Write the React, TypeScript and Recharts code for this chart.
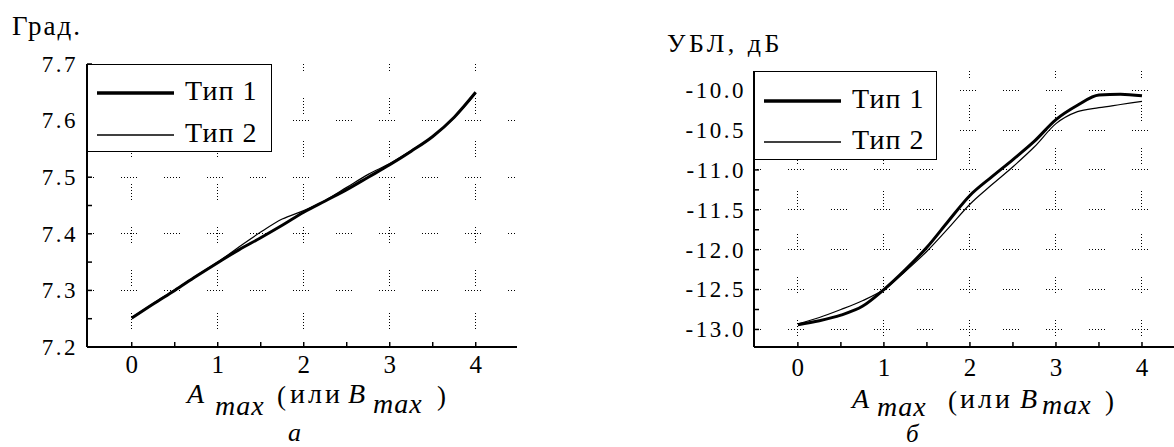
import React from 'react';
import { LineChart, Line, XAxis, YAxis, CartesianGrid } from 'recharts';

// x: A max (or B max)
const amax = [0, 0.25, 0.5, 0.75, 1, 1.25, 1.5, 1.75, 2, 2.25, 2.5, 2.75, 3, 3.25, 3.5, 3.75, 4];

// chart "а": beam angle, degrees
const angleType1 = [7.251, 7.276, 7.3, 7.325, 7.349, 7.372, 7.393, 7.415, 7.438, 7.458, 7.478, 7.5, 7.522, 7.546, 7.572, 7.606, 7.65];
const angleType2 = [7.252, 7.277, 7.301, 7.326, 7.35, 7.377, 7.403, 7.426, 7.441, 7.459, 7.482, 7.505, 7.524, 7.547, 7.572, 7.605, 7.648];

// chart "б": side lobe level, dB
const sllType1 = [-12.94, -12.89, -12.82, -12.71, -12.5, -12.25, -11.97, -11.64, -11.32, -11.09, -10.87, -10.64, -10.37, -10.19, -10.06, -10.05, -10.07];
const sllType2 = [-12.93, -12.85, -12.75, -12.64, -12.5, -12.27, -12.02, -11.73, -11.43, -11.19, -10.96, -10.71, -10.42, -10.27, -10.22, -10.18, -10.14];

const seriesNames = ['Тип 1', 'Тип 2'];
const seriesWidths = [3, 1.2];

const xTicks = [0, 0.5, 1, 1.5, 2, 2.5, 3, 3.5, 4];
const xLabels = [0, 1, 2, 3, 4];
const angleTicks = [7.2, 7.25, 7.3, 7.35, 7.4, 7.45, 7.5, 7.55, 7.6, 7.65, 7.7];
const angleLabels = [7.2, 7.3, 7.4, 7.5, 7.6, 7.7];
const angleGrid = [7.3, 7.4, 7.5, 7.6];
const sllTicks = [-13, -12.75, -12.5, -12.25, -12, -11.75, -11.5, -11.25, -11, -10.75, -10.5, -10.25, -10];
const sllLabels = [-13, -12.5, -12, -11.5, -11, -10.5, -10];

const SERIF = '"Liberation Serif"';
const serif = { fontFamily: SERIF };
const TICK_LEN = 5;
const GRID_DASH = '1 2 1 2 1 2 1 2 1 2 1 27';

type Side = 'bottom' | 'top' | 'left' | 'right';

function axisTick(side: Side, labels: number[], gap: number, digits: number, size: number) {
  return (props: any) => {
    const { x, y, payload } = props;
    const v = payload.value;
    const show = labels.includes(v);
    const txt = digits > 0 ? Number(v).toFixed(digits) : String(v);
    let tick = null;
    let label = null;
    if (side === 'bottom') {
      const ay = y - gap;
      tick = <line x1={x} x2={x} y1={ay} y2={ay - TICK_LEN} stroke="#000" strokeWidth={1.5} />;
      if (show)
        label = (
          <text x={x} y={y} textAnchor="middle" style={serif} fontSize={size} fill="#000">
            {txt}
          </text>
        );
    } else if (side === 'top') {
      const ay = y + gap;
      tick = <line x1={x} x2={x} y1={ay} y2={ay + TICK_LEN} stroke="#000" strokeWidth={1.5} />;
    } else if (side === 'left') {
      const ax = x + gap;
      tick = <line x1={ax} x2={ax + TICK_LEN} y1={y} y2={y} stroke="#000" strokeWidth={1.5} />;
      if (show)
        label = (
          <text x={x} y={y} dy="0.34em" textAnchor="end" style={serif} fontSize={size} letterSpacing={2.5} fill="#000">
            {txt}
          </text>
        );
    } else {
      const ax = x - gap;
      tick = <line x1={ax} x2={ax - TICK_LEN} y1={y} y2={y} stroke="#000" strokeWidth={1.5} />;
    }
    return (
      <g>
        {tick}
        {label}
      </g>
    );
  };
}

type PanelProps = {
  left: number;
  width: number;
  margin: { top: number; right: number; bottom: number; left: number };
  yWidth: number;
  xDomain: [number, number];
  yDomain: [number, number];
  yTicks: number[];
  yLabels: number[];
  yGrid: number[];
  xGap: number;
  yGap: number;
  series: number[][];
};

function Panel(p: PanelProps) {
  const data = amax.map((x, i) => ({ x, t1: p.series[0][i], t2: p.series[1][i] }));
  const axisLine = { stroke: '#000', strokeWidth: 2 };
  return (
    <div style={{ position: 'absolute', left: p.left, top: 0 }}>
      <LineChart width={p.width} height={447} data={data} margin={p.margin}>
        <CartesianGrid
          stroke="#000"
          strokeWidth={1}
          strokeDasharray={GRID_DASH}
          strokeDashoffset={9}
          shapeRendering="crispEdges"
          horizontalValues={p.yGrid}
          verticalValues={xLabels}
        />
        <XAxis
          dataKey="x"
          type="number"
          domain={p.xDomain}
          ticks={xTicks}
          allowDataOverflow
          height={40}
          axisLine={axisLine}
          tickLine={false}
          tickSize={0}
          tickMargin={p.xGap}
          tick={axisTick('bottom', xLabels, p.xGap, 0, 25)}
          interval={0}
        />
        <XAxis
          xAxisId="top"
          orientation="top"
          dataKey="x"
          type="number"
          domain={p.xDomain}
          ticks={xTicks}
          allowDataOverflow
          height={0}
          axisLine={axisLine}
          tickLine={false}
          tickSize={0}
          tickMargin={0}
          tick={axisTick('top', [], 0, 0, 0)}
          interval={0}
        />
        <YAxis
          type="number"
          domain={p.yDomain}
          ticks={p.yTicks}
          allowDataOverflow
          width={p.yWidth}
          axisLine={axisLine}
          tickLine={false}
          tickSize={0}
          tickMargin={p.yGap}
          tick={axisTick('left', p.yLabels, p.yGap, 1, 23)}
          interval={0}
        />
        <YAxis
          yAxisId="right"
          orientation="right"
          type="number"
          domain={p.yDomain}
          ticks={p.yTicks}
          allowDataOverflow
          width={0}
          axisLine={axisLine}
          tickLine={false}
          tickSize={0}
          tickMargin={0}
          tick={axisTick('right', [], 0, 1, 0)}
          interval={0}
        />
        <Line type="monotone" dataKey="t2" name={seriesNames[1]} stroke="#000" strokeWidth={seriesWidths[1]} dot={false} isAnimationActive={false} />
        <Line type="monotone" dataKey="t1" name={seriesNames[0]} stroke="#000" strokeWidth={seriesWidths[0]} dot={false} isAnimationActive={false} />
      </LineChart>
    </div>
  );
}

function LegendBox({ left, top, width, height, rows }: { left: number; top: number; width: number; height: number; rows: number[] }) {
  return (
    <div
      style={{
        position: 'absolute',
        left,
        top,
        width,
        height,
        border: '1.5px solid #000',
        background: '#fff',
        boxSizing: 'border-box',
      }}
    >
      <svg width={width} height={height} style={{ position: 'absolute', left: -1.5, top: -1.5 }}>
        {seriesNames.map((name, i) => (
          <g key={name}>
            <line x1={10} x2={87} y1={rows[i]} y2={rows[i]} stroke="#000" strokeWidth={seriesWidths[i] + 0.3} />
            <text x={98} y={rows[i] + 7} style={serif} fontSize={28} letterSpacing={1} fill="#000">
              {name}
            </text>
          </g>
        ))}
      </svg>
    </div>
  );
}

function AxisTitle({ x, y, sub, parts }: { x: number; y: number; sub: number; parts: number[] }) {
  // parts: x offsets of "max", "(", "или", "B", "max", ")"
  return (
    <text style={serif} fontSize={28} fill="#000">
      <tspan x={x} y={y} fontStyle="italic">A</tspan>
      <tspan x={x + parts[0]} y={y + sub} fontStyle="italic" letterSpacing={1}>max</tspan>
      <tspan x={x + parts[1]} y={y + 2} fontSize={27}>(</tspan>
      <tspan x={x + parts[2]} y={y} fontSize={28} letterSpacing={3}>или</tspan>
      <tspan x={x + parts[3]} y={y} fontStyle="italic">B</tspan>
      <tspan x={x + parts[4]} y={y + sub - 2} fontStyle="italic" letterSpacing={1}>max</tspan>
      <tspan x={x + parts[5]} y={y + 2} fontSize={27}>)</tspan>
    </text>
  );
}

export default function App() {
  return (
    <div
      style={{
        position: 'fixed',
        left: 0,
        top: 0,
        width: 1174,
        height: 447,
        overflow: 'hidden',
        background: '#fff',
        fontFamily: SERIF,
      }}
    >
      <Panel
        left={0}
        width={560}
        margin={{ top: 64, right: 43, bottom: 60, left: 27 }}
        yWidth={60}
        xDomain={[-0.52, 4.48]}
        yDomain={[7.2, 7.7]}
        yTicks={angleTicks}
        yLabels={angleLabels}
        yGrid={angleGrid}
        xGap={26}
        yGap={9}
        series={[angleType1, angleType2]}
      />
      <Panel
        left={600}
        width={640}
        margin={{ top: 71, right: 55, bottom: 60, left: 84 }}
        yWidth={70}
        xDomain={[-0.51, 4.5]}
        yDomain={[-13.22, -9.76]}
        yTicks={sllTicks}
        yLabels={sllLabels}
        yGrid={sllLabels}
        xGap={29}
        yGap={8}
        series={[sllType1, sllType2]}
      />
      <LegendBox left={87} top={64} width={185} height={88} rows={[29, 71]} />
      <LegendBox left={754} top={71} width={183} height={89} rows={[30, 71]} />
      <svg width={1174} height={447} style={{ position: 'absolute', left: 0, top: 0, pointerEvents: 'none' }}>
        <text x={12} y={35} style={serif} fontSize={27} letterSpacing={2} fill="#000">Град.</text>
        <text x={667} y={52} style={serif} fontSize={26} letterSpacing={3.5} fill="#000">УБЛ, дБ</text>
        <AxisTitle x={187} y={403} sub={12} parts={[28, 90, 103, 161, 186, 250]} />
        <AxisTitle x={852} y={408} sub={8} parts={[25, 96, 108, 168, 190, 253]} />
        <text x={288} y={441} style={serif} fontSize={26} fontStyle="italic" fill="#000">а</text>
        <text x={906} y={442} style={serif} fontSize={25} fontStyle="italic" fill="#000">б</text>
      </svg>
    </div>
  );
}
